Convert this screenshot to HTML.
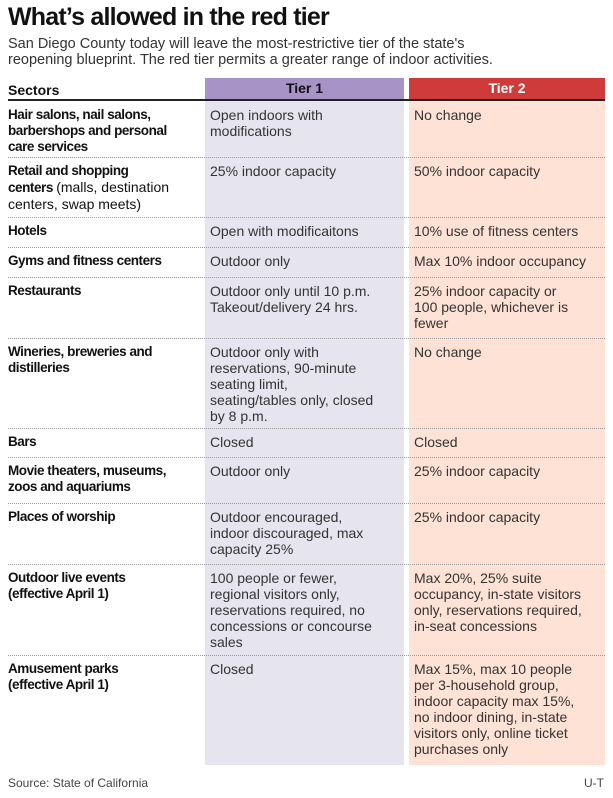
<!DOCTYPE html>
<html><head><meta charset="utf-8"><style>
body{margin:0;width:613px;height:798px;background:#fff;font-family:"Liberation Sans",sans-serif;color:#222;position:relative;overflow:hidden}
.a{position:absolute}
.t{font-size:14px;line-height:16px;color:#333}
.b{font-weight:bold;font-size:13.5px;letter-spacing:-0.45px;color:#111;line-height:16px}
.dl{position:absolute;left:8px;width:597px;border-top:1px dotted #999;height:0}
</style></head><body>
<div class="a" style="left:8px;top:3px;font-size:25px;font-weight:bold;letter-spacing:-0.8px;color:#111">What’s allowed in the red tier</div>
<div class="a t" style="left:8px;top:36px;font-size:14.5px;line-height:16px">San Diego County today will leave the most-restrictive tier of the state's<br>reopening blueprint. The red tier permits a greater range of indoor activities.</div>
<div class="a" style="left:205px;top:78px;width:199px;height:687px;background:#e6e4ef"></div>
<div class="a" style="left:409px;top:78px;width:196px;height:687px;background:#fde2d5"></div>
<div class="a" style="left:205px;top:78px;width:199px;height:21px;background:#a893c7;text-align:center;font-weight:bold;font-size:14px;line-height:21px;color:#111">Tier 1</div>
<div class="a" style="left:409px;top:78px;width:196px;height:21px;background:#cf3a3a;text-align:center;font-weight:bold;font-size:14px;line-height:21px;color:#fff">Tier 2</div>
<div class="a" style="left:8px;top:82px;font-weight:bold;font-size:14px;color:#111">Sectors</div>
<div class="a" style="left:8px;top:99px;width:597px;height:2px;background:#222"></div>
<div id="rows"></div>
<div class="a" style="left:8px;top:776px;font-size:12px;color:#444">Source: State of California</div>
<div class="a" style="left:584px;top:776px;font-size:12px;color:#444">U-T</div>
<script>
const tops=[101,157,217,247,277,338,428,457,503,564,655];
const sectors=["Hair salons, nail salons,<br>barbershops and personal<br>care services","Retail and shopping<br>centers <span style='font-weight:normal;letter-spacing:0;font-size:14px'>(malls, destination<br>centers, swap meets)</span>","Hotels","Gyms and fitness centers","Restaurants","Wineries, breweries and<br>distilleries","Bars","Movie theaters, museums,<br>zoos and aquariums","Places of worship","Outdoor live events<br>(effective April 1)","Amusement parks<br>(effective April 1)"];
const tier1=["Open indoors with<br>modifications","25% indoor capacity","Open with modificaitons","Outdoor only","Outdoor only until 10 p.m.<br>Takeout/delivery 24 hrs.","Outdoor only with<br>reservations, 90-minute<br>seating limit,<br>seating/tables only, closed<br>by 8 p.m.","Closed","Outdoor only","Outdoor encouraged,<br>indoor discouraged, max<br>capacity 25%","100 people or fewer,<br>regional visitors only,<br>reservations required, no<br>concessions or concourse<br>sales","Closed"];
const tier2=["No change","50% indoor capacity","10% use of fitness centers","Max 10% indoor occupancy","25% indoor capacity or<br>100 people, whichever is<br>fewer","No change","Closed","25% indoor capacity","25% indoor capacity","Max 20%, 25% suite<br>occupancy, in-state visitors<br>only, reservations required,<br>in-seat concessions","Max 15%, max 10 people<br>per 3-household group,<br>indoor capacity max 15%,<br>no indoor dining, in-state<br>visitors only, online ticket<br>purchases only"];
const R=document.getElementById('rows');
tops.forEach((y,i)=>{
  if(i>0){const d=document.createElement('div');d.className='dl';d.style.top=y+'px';
  
  R.appendChild(d);}
  const s=document.createElement('div');s.className='a b';s.style.left='8px';s.style.top=(y+6)+'px';s.innerHTML=sectors[i];
  
  R.appendChild(s);
  const c1=document.createElement('div');c1.className='a t';c1.style.left='210px';c1.style.top=(y+6)+'px';c1.innerHTML=tier1[i];
  
  R.appendChild(c1);
  const c2=document.createElement('div');c2.className='a t';c2.style.left='414px';c2.style.top=(y+6)+'px';c2.innerHTML=tier2[i];
  
  R.appendChild(c2);
});
</script>
</body></html>
